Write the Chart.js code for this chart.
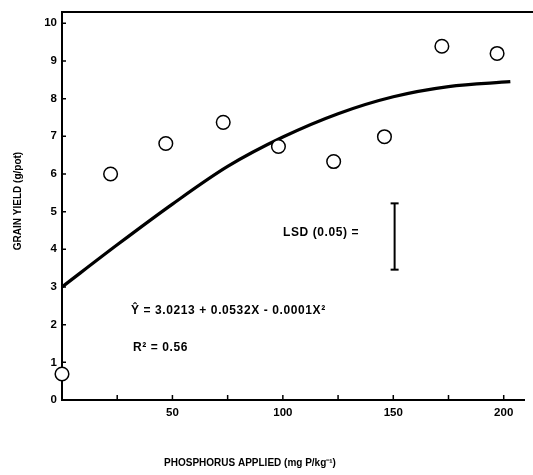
<!DOCTYPE html>
<html>
<head>
<meta charset="utf-8">
<script src="https://cdn.jsdelivr.net/npm/chart.js@4"></script>
<style>
  body { margin: 0; background: #fff; }
  canvas { display: block; }
</style>
</head>
<body>
<canvas id="chart" width="533" height="475"></canvas>
<script>
const phosphorus = [0, 22, 47, 73, 98, 123, 146, 172, 197];
const grainYield = [0.69, 6.0, 6.81, 7.37, 6.73, 6.33, 6.99, 9.39, 9.2];

// fitted curve
const fitX = [0, 25, 50, 75, 100, 125, 150, 175, 203];
const fitY = [3.0, 4.12, 5.2, 6.2, 6.98, 7.6, 8.05, 8.32, 8.45];

// LSD bar
const lsdX = [150.6, 150.6];
const lsdY = [3.46, 5.22];

const xTicks = [25, 50, 75, 100, 125, 150, 175, 200];
const xLabels = [50, 100, 150, 200];
const yTicks = [0, 1, 2, 3, 4, 5, 6, 7, 8, 9, 10];

const FONT = "'Liberation Sans', Arial, sans-serif";
const toPoints = (xs, ys) => xs.map((x, i) => ({ x, y: ys[i] }));

const frame = {
  id: "frame",
  afterDraw(chart) {
    const { ctx, chartArea: a } = chart;
    const xs = chart.scales.x;
    const ys = chart.scales.y;
    ctx.save();
    ctx.strokeStyle = "#000";

    // top rule, and bottom axis carried to the edge
    ctx.lineWidth = 2;
    ctx.beginPath();
    ctx.moveTo(a.left, a.top);
    ctx.lineTo(chart.width, a.top);
    ctx.moveTo(a.right - 1, a.bottom);
    ctx.lineTo(chart.width - 8, a.bottom);
    ctx.stroke();

    // inward tick marks
    ctx.lineWidth = 1.5;
    ctx.beginPath();
    yTicks.forEach((v) => {
      const py = ys.getPixelForValue(v);
      ctx.moveTo(a.left, py);
      ctx.lineTo(a.left + 4, py);
    });
    xTicks.forEach((v) => {
      const px = xs.getPixelForValue(v);
      ctx.moveTo(px, a.bottom);
      ctx.lineTo(px, a.bottom - 5);
    });
    ctx.stroke();

    // titles and notes
    ctx.fillStyle = "#000";
    ctx.textBaseline = "middle";
    ctx.font = "bold 10px " + FONT;
    ctx.textAlign = "center";
    ctx.fillText("PHOSPHORUS APPLIED (mg P/kg\u207B\u00B9)", 250, 463);

    ctx.save();
    ctx.translate(18, 201);
    ctx.rotate(-Math.PI / 2);
    ctx.fillText("GRAIN YIELD (g/pot)", 0, 0);
    ctx.restore();

    ctx.textAlign = "left";
    ctx.font = "bold 12px " + FONT;
    ctx.letterSpacing = "0.6px";
    ctx.fillText("LSD (0.05) =", 283, 233);
    ctx.fillText("\u0176 = 3.0213 + 0.0532X - 0.0001X\u00B2", 131, 311);
    ctx.fillText("R\u00B2 = 0.56", 133, 348);
    ctx.restore();
  },
};

new Chart(document.getElementById("chart"), {
  type: "scatter",
  data: {
    datasets: [
      {
        label: "fit",
        data: toPoints(fitX, fitY),
        showLine: true,
        borderColor: "#000",
        borderWidth: 3.2,
        pointRadius: 0,
        cubicInterpolationMode: "monotone",
        order: 2,
      },
      {
        label: "LSD",
        data: toPoints(lsdX, lsdY),
        showLine: true,
        borderColor: "#000",
        borderWidth: 2,
        pointStyle: "line",
        pointRadius: 4,
        pointBorderWidth: 2,
        pointBorderColor: "#000",
        order: 1,
      },
      {
        label: "yield",
        data: toPoints(phosphorus, grainYield),
        pointStyle: "circle",
        pointRadius: 6.8,
        pointBorderWidth: 1.5,
        pointBorderColor: "#000",
        pointBackgroundColor: "#fff",
        order: 0,
      },
    ],
  },
  options: {
    responsive: false,
    animation: false,
    clip: false,
    layout: { padding: { top: 12, left: 0, right: 0, bottom: 0 } },
    plugins: { legend: { display: false }, tooltip: { enabled: false } },
    scales: {
      x: {
        type: "linear",
        min: 0,
        max: 209.5,
        afterBuildTicks: (scale) => {
          scale.ticks = xTicks.map((v) => ({ value: v }));
        },
        afterFit: (scale) => {
          scale.height = 75;
        },
        ticks: {
          autoSkip: false,
          maxRotation: 0,
          padding: 6,
          color: "#000",
          font: { family: FONT, size: 11.5, weight: "bold" },
          callback: (v) => (xLabels.includes(v) ? String(v) : ""),
        },
        grid: { drawOnChartArea: false, drawTicks: false },
        border: { color: "#000", width: 2 },
      },
      y: {
        min: 0,
        max: 10.3,
        afterBuildTicks: (scale) => {
          scale.ticks = yTicks.map((v) => ({ value: v }));
        },
        afterFit: (scale) => {
          scale.width = 62;
        },
        ticks: {
          autoSkip: false,
          padding: 5,
          color: "#000",
          font: { family: FONT, size: 11.5, weight: "bold" },
        },
        grid: { drawOnChartArea: false, drawTicks: false },
        border: { color: "#000", width: 2 },
      },
    },
  },
  plugins: [frame],
});
</script>
</body>
</html>
